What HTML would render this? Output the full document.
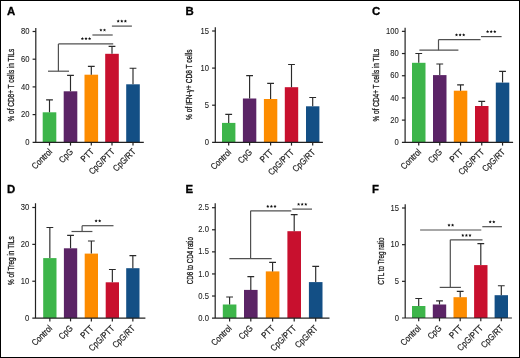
<!DOCTYPE html>
<html><head><meta charset="utf-8"><style>
html,body{margin:0;padding:0;background:#fff;}
body{width:520px;height:358px;overflow:hidden;}
svg{display:block;will-change:transform;}
text{font-family:"Liberation Sans",sans-serif;fill:#1a1a1a;stroke:#1a1a1a;stroke-width:0.22px;}
.let{stroke:#000;stroke-width:0.3px;}
.let{font-size:11.4px;font-weight:bold;fill:#000;}
.tk{font-size:8.3px;text-anchor:end;stroke-width:0.08px;}
.xl{font-size:9.0px;text-anchor:end;stroke-width:0.2px;}
.yl{font-size:8.9px;text-anchor:middle;stroke-width:0.3px;}
.st{font-size:7.5px;text-anchor:middle;letter-spacing:0.6px;}
.ax{stroke:#222;stroke-width:1.2;fill:none;}
.eb{stroke:#2a2a2a;stroke-width:1.15;fill:none;}
.sd{fill:#111;}
.br{stroke:#505050;stroke-width:1.2;fill:none;}
</style></head><body>
<svg width="520" height="358" viewBox="0 0 520 358">
<rect x="0" y="0" width="520" height="358" fill="#fff"/>
<text x="7" y="14.6" class="let">A</text>
<rect x="42.7" y="112.3" width="13.6" height="30" fill="#3db54a"/>
<path d="M49.5 112.3V99.9M46.1 99.9H52.9" class="eb"/>
<path d="M49.5 142.3V145.6" class="ax"/>
<text transform="translate(52.7 152.3) rotate(-45) scale(0.85 1)" class="xl">Control</text>
<rect x="63.7" y="91.3" width="13.6" height="51" fill="#5b2466"/>
<path d="M70.5 91.3V75.4M67.1 75.4H73.9" class="eb"/>
<path d="M70.5 142.3V145.6" class="ax"/>
<text transform="translate(73.7 152.3) rotate(-45) scale(0.85 1)" class="xl">CpG</text>
<rect x="84.5" y="74.7" width="13.6" height="67.6" fill="#fd8c00"/>
<path d="M91.3 74.7V66.4M87.9 66.4H94.7" class="eb"/>
<path d="M91.3 142.3V145.6" class="ax"/>
<text transform="translate(94.5 152.3) rotate(-45) scale(0.85 1)" class="xl">PTT</text>
<rect x="105.2" y="53.8" width="13.6" height="88.5" fill="#c8102e"/>
<path d="M112 53.8V46.4M108.6 46.4H115.4" class="eb"/>
<path d="M112 142.3V145.6" class="ax"/>
<text transform="translate(115.2 152.3) rotate(-45) scale(0.85 1)" class="xl">CpG/PTT</text>
<rect x="126.2" y="84.3" width="13.6" height="58" fill="#134f85"/>
<path d="M133 84.3V68.2M129.6 68.2H136.4" class="eb"/>
<path d="M133 142.3V145.6" class="ax"/>
<text transform="translate(136.2 152.3) rotate(-45) scale(0.85 1)" class="xl">CpG/RT</text>
<path d="M35.8 27.9V142.3M32.6 142.3H143.8" class="ax"/>
<text transform="translate(29.5 144.9) scale(0.92 1)" class="tk">0</text>
<path d="M32.6 114.6H35.8" class="ax"/>
<text transform="translate(29.5 117.2) scale(0.92 1)" class="tk">20</text>
<path d="M32.6 86.9H35.8" class="ax"/>
<text transform="translate(29.5 89.5) scale(0.92 1)" class="tk">40</text>
<path d="M32.6 59.2H35.8" class="ax"/>
<text transform="translate(29.5 61.8) scale(0.92 1)" class="tk">60</text>
<path d="M32.6 31.5H35.8" class="ax"/>
<text transform="translate(29.5 34.1) scale(0.92 1)" class="tk">80</text>
<text transform="translate(13.9 85.15) rotate(-90) scale(0.726 1)" class="yl">% of CD8+ T cells in TILs</text>
<path d="M48 71.2L69 71.2" class="br"/>
<path d="M58.4 71.2L58.4 43.9" class="br"/>
<path d="M58.4 43.9L113.2 43.9" class="br"/>
<path d="M92.4 35L112.7 35" class="br"/>
<path d="M111.9 26.1L131.9 26.1" class="br"/>
<polygon points="82.40,37.10 82.87,38.10 83.97,38.24 83.16,39.00 83.37,40.08 82.40,39.55 81.43,40.08 81.64,39.00 80.83,38.24 81.93,38.10" class="sd"/>
<polygon points="86.00,37.10 86.47,38.10 87.57,38.24 86.76,39.00 86.97,40.08 86.00,39.55 85.03,40.08 85.24,39.00 84.43,38.24 85.53,38.10" class="sd"/>
<polygon points="89.60,37.10 90.07,38.10 91.17,38.24 90.36,39.00 90.57,40.08 89.60,39.55 88.63,40.08 88.84,39.00 88.03,38.24 89.13,38.10" class="sd"/>
<polygon points="100.90,28.40 101.37,29.40 102.47,29.54 101.66,30.30 101.87,31.38 100.90,30.85 99.93,31.38 100.14,30.30 99.33,29.54 100.43,29.40" class="sd"/>
<polygon points="104.50,28.40 104.97,29.40 106.07,29.54 105.26,30.30 105.47,31.38 104.50,30.85 103.53,31.38 103.74,30.30 102.93,29.54 104.03,29.40" class="sd"/>
<polygon points="118.20,19.50 118.67,20.50 119.77,20.64 118.96,21.40 119.17,22.48 118.20,21.95 117.23,22.48 117.44,21.40 116.63,20.64 117.73,20.50" class="sd"/>
<polygon points="121.80,19.50 122.27,20.50 123.37,20.64 122.56,21.40 122.77,22.48 121.80,21.95 120.83,22.48 121.04,21.40 120.23,20.64 121.33,20.50" class="sd"/>
<polygon points="125.40,19.50 125.87,20.50 126.97,20.64 126.16,21.40 126.37,22.48 125.40,21.95 124.43,22.48 124.64,21.40 123.83,20.64 124.93,20.50" class="sd"/>
<text x="185.5" y="14.6" class="let">B</text>
<rect x="222" y="122.9" width="13.4" height="19.4" fill="#3db54a"/>
<path d="M228.7 122.9V114.3M225.3 114.3H232.1" class="eb"/>
<path d="M228.7 142.3V145.6" class="ax"/>
<text transform="translate(231.7 152.9) rotate(-45) scale(0.85 1)" class="xl">Control</text>
<rect x="242.9" y="98.5" width="13.4" height="43.8" fill="#5b2466"/>
<path d="M249.6 98.5V75.6M246.2 75.6H253" class="eb"/>
<path d="M249.6 142.3V145.6" class="ax"/>
<text transform="translate(252.6 152.9) rotate(-45) scale(0.85 1)" class="xl">CpG</text>
<rect x="263.9" y="99" width="13.4" height="43.3" fill="#fd8c00"/>
<path d="M270.6 99V83.4M267.2 83.4H274" class="eb"/>
<path d="M270.6 142.3V145.6" class="ax"/>
<text transform="translate(273.6 152.9) rotate(-45) scale(0.85 1)" class="xl">PTT</text>
<rect x="284.8" y="87.2" width="13.4" height="55.1" fill="#c8102e"/>
<path d="M291.5 87.2V64.5M288.1 64.5H294.9" class="eb"/>
<path d="M291.5 142.3V145.6" class="ax"/>
<text transform="translate(294.5 152.9) rotate(-45) scale(0.85 1)" class="xl">CpG/PTT</text>
<rect x="306" y="106.3" width="13.4" height="36" fill="#134f85"/>
<path d="M312.7 106.3V97.5M309.3 97.5H316.1" class="eb"/>
<path d="M312.7 142.3V145.6" class="ax"/>
<text transform="translate(315.7 152.9) rotate(-45) scale(0.85 1)" class="xl">CpG/RT</text>
<path d="M215.3 27.3V142.3M212.1 142.3H322.9" class="ax"/>
<text transform="translate(209 144.9) scale(0.92 1)" class="tk">0</text>
<path d="M212.1 105.2H215.3" class="ax"/>
<text transform="translate(209 107.8) scale(0.92 1)" class="tk">5</text>
<path d="M212.1 68.1H215.3" class="ax"/>
<text transform="translate(209 70.7) scale(0.92 1)" class="tk">10</text>
<path d="M212.1 31H215.3" class="ax"/>
<text transform="translate(209 33.6) scale(0.92 1)" class="tk">15</text>
<text transform="translate(191.55 84.75) rotate(-90) scale(0.739 1)" class="yl">% of IFN-γ+ CD8 T cells</text>
<text x="372" y="14.6" class="let">C</text>
<rect x="412" y="62.8" width="13.5" height="79.5" fill="#3db54a"/>
<path d="M418.75 62.8V53.5M415.35 53.5H422.15" class="eb"/>
<path d="M418.75 142.3V145.6" class="ax"/>
<text transform="translate(421.75 152.6) rotate(-45) scale(0.85 1)" class="xl">Control</text>
<rect x="433" y="75.1" width="13.5" height="67.2" fill="#5b2466"/>
<path d="M439.75 75.1V64M436.35 64H443.15" class="eb"/>
<path d="M439.75 142.3V145.6" class="ax"/>
<text transform="translate(442.75 152.6) rotate(-45) scale(0.85 1)" class="xl">CpG</text>
<rect x="453.8" y="90.7" width="13.5" height="51.6" fill="#fd8c00"/>
<path d="M460.55 90.7V84.9M457.15 84.9H463.95" class="eb"/>
<path d="M460.55 142.3V145.6" class="ax"/>
<text transform="translate(463.55 152.6) rotate(-45) scale(0.85 1)" class="xl">PTT</text>
<rect x="475" y="106" width="13.5" height="36.3" fill="#c8102e"/>
<path d="M481.75 106V101.3M478.35 101.3H485.15" class="eb"/>
<path d="M481.75 142.3V145.6" class="ax"/>
<text transform="translate(484.75 152.6) rotate(-45) scale(0.85 1)" class="xl">CpG/PTT</text>
<rect x="495.8" y="82.6" width="13.5" height="59.7" fill="#134f85"/>
<path d="M502.55 82.6V71.3M499.15 71.3H505.95" class="eb"/>
<path d="M502.55 142.3V145.6" class="ax"/>
<text transform="translate(505.55 152.6) rotate(-45) scale(0.85 1)" class="xl">CpG/RT</text>
<path d="M405.1 27.7V142.3M401.9 142.3H513.1" class="ax"/>
<text transform="translate(398.8 144.9) scale(0.92 1)" class="tk">0</text>
<path d="M401.9 120.11H405.1" class="ax"/>
<text transform="translate(398.8 122.71) scale(0.92 1)" class="tk">20</text>
<path d="M401.9 97.92H405.1" class="ax"/>
<text transform="translate(398.8 100.52) scale(0.92 1)" class="tk">40</text>
<path d="M401.9 75.73H405.1" class="ax"/>
<text transform="translate(398.8 78.33) scale(0.92 1)" class="tk">60</text>
<path d="M401.9 53.54H405.1" class="ax"/>
<text transform="translate(398.8 56.14) scale(0.92 1)" class="tk">80</text>
<path d="M401.9 31.35H405.1" class="ax"/>
<text transform="translate(398.8 33.95) scale(0.92 1)" class="tk">100</text>
<text transform="translate(378.65 85.15) rotate(-90) scale(0.726 1)" class="yl">% of CD4+ T cells in TILs</text>
<path d="M419.4 50.2L458.4 50.2" class="br"/>
<path d="M438.5 50.2L438.5 39.6" class="br"/>
<path d="M438.5 39.6L480.5 39.6" class="br"/>
<path d="M481 36.6L501.6 36.6" class="br"/>
<polygon points="456.50,33.20 456.97,34.20 458.07,34.34 457.26,35.10 457.47,36.18 456.50,35.65 455.53,36.18 455.74,35.10 454.93,34.34 456.03,34.20" class="sd"/>
<polygon points="460.10,33.20 460.57,34.20 461.67,34.34 460.86,35.10 461.07,36.18 460.10,35.65 459.13,36.18 459.34,35.10 458.53,34.34 459.63,34.20" class="sd"/>
<polygon points="463.70,33.20 464.17,34.20 465.27,34.34 464.46,35.10 464.67,36.18 463.70,35.65 462.73,36.18 462.94,35.10 462.13,34.34 463.23,34.20" class="sd"/>
<polygon points="487.60,30.10 488.07,31.10 489.17,31.24 488.36,32.00 488.57,33.08 487.60,32.55 486.63,33.08 486.84,32.00 486.03,31.24 487.13,31.10" class="sd"/>
<polygon points="491.20,30.10 491.67,31.10 492.77,31.24 491.96,32.00 492.17,33.08 491.20,32.55 490.23,33.08 490.44,32.00 489.63,31.24 490.73,31.10" class="sd"/>
<polygon points="494.80,30.10 495.27,31.10 496.37,31.24 495.56,32.00 495.77,33.08 494.80,32.55 493.83,33.08 494.04,32.00 493.23,31.24 494.33,31.10" class="sd"/>
<text x="7" y="193.1" class="let">D</text>
<rect x="43.2" y="258.1" width="13.3" height="60" fill="#3db54a"/>
<path d="M49.85 258.1V227.5M46.45 227.5H53.25" class="eb"/>
<path d="M49.85 318.1V321.4" class="ax"/>
<text transform="translate(52.65 328.9) rotate(-45) scale(0.85 1)" class="xl">Control</text>
<rect x="63.9" y="248.3" width="13.3" height="69.8" fill="#5b2466"/>
<path d="M70.55 248.3V235.3M67.15 235.3H73.95" class="eb"/>
<path d="M70.55 318.1V321.4" class="ax"/>
<text transform="translate(73.35 328.9) rotate(-45) scale(0.85 1)" class="xl">CpG</text>
<rect x="84.7" y="253.6" width="13.3" height="64.5" fill="#fd8c00"/>
<path d="M91.35 253.6V241M87.95 241H94.75" class="eb"/>
<path d="M91.35 318.1V321.4" class="ax"/>
<text transform="translate(94.15 328.9) rotate(-45) scale(0.85 1)" class="xl">PTT</text>
<rect x="105.7" y="282.3" width="13.3" height="35.8" fill="#c8102e"/>
<path d="M112.35 282.3V269.5M108.95 269.5H115.75" class="eb"/>
<path d="M112.35 318.1V321.4" class="ax"/>
<text transform="translate(115.15 328.9) rotate(-45) scale(0.85 1)" class="xl">CpG/PTT</text>
<rect x="126.2" y="268.2" width="13.3" height="49.9" fill="#134f85"/>
<path d="M132.85 268.2V255.6M129.45 255.6H136.25" class="eb"/>
<path d="M132.85 318.1V321.4" class="ax"/>
<text transform="translate(135.65 328.9) rotate(-45) scale(0.85 1)" class="xl">CpG/RT</text>
<path d="M35.5 203.2V318.1M32.3 318.1H145.4" class="ax"/>
<text transform="translate(29.2 320.7) scale(0.92 1)" class="tk">0</text>
<path d="M32.3 281.23H35.5" class="ax"/>
<text transform="translate(29.2 283.83) scale(0.92 1)" class="tk">10</text>
<path d="M32.3 244.37H35.5" class="ax"/>
<text transform="translate(29.2 246.97) scale(0.92 1)" class="tk">20</text>
<path d="M32.3 207.5H35.5" class="ax"/>
<text transform="translate(29.2 210.1) scale(0.92 1)" class="tk">30</text>
<text transform="translate(13.7 260.65) rotate(-90) scale(0.726 1)" class="yl">% of Treg in TILs</text>
<path d="M71.5 231.5L92.4 231.5" class="br"/>
<path d="M82.1 231.5L82.1 225.7" class="br"/>
<path d="M82.1 225.7L113.5 225.7" class="br"/>
<polygon points="96.10,219.25 96.57,220.25 97.67,220.39 96.86,221.15 97.07,222.23 96.10,221.70 95.13,222.23 95.34,221.15 94.53,220.39 95.63,220.25" class="sd"/>
<polygon points="99.70,219.25 100.17,220.25 101.27,220.39 100.46,221.15 100.67,222.23 99.70,221.70 98.73,222.23 98.94,221.15 98.13,220.39 99.23,220.25" class="sd"/>
<text x="185.6" y="193.1" class="let">E</text>
<rect x="222.8" y="304.5" width="13.6" height="13.6" fill="#3db54a"/>
<path d="M229.6 304.5V297M226.2 297H233" class="eb"/>
<path d="M229.6 318.1V321.4" class="ax"/>
<text transform="translate(232.2 328.9) rotate(-45) scale(0.85 1)" class="xl">Control</text>
<rect x="244" y="289.9" width="13.6" height="28.2" fill="#5b2466"/>
<path d="M250.8 289.9V276.6M247.4 276.6H254.2" class="eb"/>
<path d="M250.8 318.1V321.4" class="ax"/>
<text transform="translate(253.4 328.9) rotate(-45) scale(0.85 1)" class="xl">CpG</text>
<rect x="265.8" y="271.4" width="13.6" height="46.7" fill="#fd8c00"/>
<path d="M272.6 271.4V262.4M269.2 262.4H276" class="eb"/>
<path d="M272.6 318.1V321.4" class="ax"/>
<text transform="translate(275.2 328.9) rotate(-45) scale(0.85 1)" class="xl">PTT</text>
<rect x="287.4" y="231.2" width="13.6" height="86.9" fill="#c8102e"/>
<path d="M294.2 231.2V214.6M290.8 214.6H297.6" class="eb"/>
<path d="M294.2 318.1V321.4" class="ax"/>
<text transform="translate(296.8 328.9) rotate(-45) scale(0.85 1)" class="xl">CpG/PTT</text>
<rect x="308.9" y="282.1" width="13.6" height="36" fill="#134f85"/>
<path d="M315.7 282.1V266.4M312.3 266.4H319.1" class="eb"/>
<path d="M315.7 318.1V321.4" class="ax"/>
<text transform="translate(318.3 328.9) rotate(-45) scale(0.85 1)" class="xl">CpG/RT</text>
<path d="M215.2 203.2V318.1M212 318.1H329.5" class="ax"/>
<text transform="translate(208.9 320.7) scale(0.92 1)" class="tk">0.0</text>
<path d="M212 296.02H215.2" class="ax"/>
<text transform="translate(208.9 298.62) scale(0.92 1)" class="tk">0.5</text>
<path d="M212 273.94H215.2" class="ax"/>
<text transform="translate(208.9 276.54) scale(0.92 1)" class="tk">1.0</text>
<path d="M212 251.86H215.2" class="ax"/>
<text transform="translate(208.9 254.46) scale(0.92 1)" class="tk">1.5</text>
<path d="M212 229.78H215.2" class="ax"/>
<text transform="translate(208.9 232.38) scale(0.92 1)" class="tk">2.0</text>
<path d="M212 207.7H215.2" class="ax"/>
<text transform="translate(208.9 210.3) scale(0.92 1)" class="tk">2.5</text>
<text transform="translate(192.55 260.65) rotate(-90) scale(0.696 1)" class="yl">CD8 to CD4 ratio</text>
<path d="M229.4 258.6L271.7 258.6" class="br"/>
<path d="M250.6 258.6L250.6 210.8" class="br"/>
<path d="M250.6 210.8L291.3 210.8" class="br"/>
<path d="M292.3 209.1L312 209.1" class="br"/>
<polygon points="267.80,204.80 268.27,205.80 269.37,205.94 268.56,206.70 268.77,207.78 267.80,207.25 266.83,207.78 267.04,206.70 266.23,205.94 267.33,205.80" class="sd"/>
<polygon points="271.40,204.80 271.87,205.80 272.97,205.94 272.16,206.70 272.37,207.78 271.40,207.25 270.43,207.78 270.64,206.70 269.83,205.94 270.93,205.80" class="sd"/>
<polygon points="275.00,204.80 275.47,205.80 276.57,205.94 275.76,206.70 275.97,207.78 275.00,207.25 274.03,207.78 274.24,206.70 273.43,205.94 274.53,205.80" class="sd"/>
<polygon points="298.60,202.65 299.07,203.65 300.17,203.79 299.36,204.55 299.57,205.63 298.60,205.10 297.63,205.63 297.84,204.55 297.03,203.79 298.13,203.65" class="sd"/>
<polygon points="302.20,202.65 302.67,203.65 303.77,203.79 302.96,204.55 303.17,205.63 302.20,205.10 301.23,205.63 301.44,204.55 300.63,203.79 301.73,203.65" class="sd"/>
<polygon points="305.80,202.65 306.27,203.65 307.37,203.79 306.56,204.55 306.77,205.63 305.80,205.10 304.83,205.63 305.04,204.55 304.23,203.79 305.33,203.65" class="sd"/>
<text x="372" y="193.1" class="let">F</text>
<rect x="412" y="306" width="13.4" height="12" fill="#3db54a"/>
<path d="M418.7 306V298.5M415.3 298.5H422.1" class="eb"/>
<path d="M418.7 318V321.3" class="ax"/>
<text transform="translate(421.5 328.7) rotate(-45) scale(0.85 1)" class="xl">Control</text>
<rect x="432.8" y="304.5" width="13.4" height="13.5" fill="#5b2466"/>
<path d="M439.5 304.5V300.8M436.1 300.8H442.9" class="eb"/>
<path d="M439.5 318V321.3" class="ax"/>
<text transform="translate(442.3 328.7) rotate(-45) scale(0.85 1)" class="xl">CpG</text>
<rect x="453.5" y="297.2" width="13.4" height="20.8" fill="#fd8c00"/>
<path d="M460.2 297.2V291.4M456.8 291.4H463.6" class="eb"/>
<path d="M460.2 318V321.3" class="ax"/>
<text transform="translate(463 328.7) rotate(-45) scale(0.85 1)" class="xl">PTT</text>
<rect x="474.1" y="265.1" width="13.4" height="52.9" fill="#c8102e"/>
<path d="M480.8 265.1V243.6M477.4 243.6H484.2" class="eb"/>
<path d="M480.8 318V321.3" class="ax"/>
<text transform="translate(483.6 328.7) rotate(-45) scale(0.85 1)" class="xl">CpG/PTT</text>
<rect x="494.6" y="295.2" width="13.4" height="22.8" fill="#134f85"/>
<path d="M501.3 295.2V285.7M497.9 285.7H504.7" class="eb"/>
<path d="M501.3 318V321.3" class="ax"/>
<text transform="translate(504.1 328.7) rotate(-45) scale(0.85 1)" class="xl">CpG/RT</text>
<path d="M405.2 204.2V318M402 318H511.9" class="ax"/>
<text transform="translate(398.9 320.6) scale(0.92 1)" class="tk">0</text>
<path d="M402 281.33H405.2" class="ax"/>
<text transform="translate(398.9 283.93) scale(0.92 1)" class="tk">5</text>
<path d="M402 244.67H405.2" class="ax"/>
<text transform="translate(398.9 247.27) scale(0.92 1)" class="tk">10</text>
<path d="M402 208H405.2" class="ax"/>
<text transform="translate(398.9 210.6) scale(0.92 1)" class="tk">15</text>
<text transform="translate(383.9 261.1) rotate(-90) scale(0.713 1)" class="yl">CTL to Treg ratio</text>
<path d="M420.1 230L481.3 230" class="br"/>
<path d="M482.3 226.7L501.9 226.7" class="br"/>
<path d="M450.3 239.8L482.5 239.8" class="br"/>
<path d="M450.3 239.8L450.3 287.4" class="br"/>
<path d="M439.7 287.4L460.9 287.4" class="br"/>
<polygon points="449.00,223.50 449.47,224.50 450.57,224.64 449.76,225.40 449.97,226.48 449.00,225.95 448.03,226.48 448.24,225.40 447.43,224.64 448.53,224.50" class="sd"/>
<polygon points="452.60,223.50 453.07,224.50 454.17,224.64 453.36,225.40 453.57,226.48 452.60,225.95 451.63,226.48 451.84,225.40 451.03,224.64 452.13,224.50" class="sd"/>
<polygon points="490.20,220.25 490.67,221.25 491.77,221.39 490.96,222.15 491.17,223.23 490.20,222.70 489.23,223.23 489.44,222.15 488.63,221.39 489.73,221.25" class="sd"/>
<polygon points="493.80,220.25 494.27,221.25 495.37,221.39 494.56,222.15 494.77,223.23 493.80,222.70 492.83,223.23 493.04,222.15 492.23,221.39 493.33,221.25" class="sd"/>
<polygon points="462.80,233.70 463.27,234.70 464.37,234.84 463.56,235.60 463.77,236.68 462.80,236.15 461.83,236.68 462.04,235.60 461.23,234.84 462.33,234.70" class="sd"/>
<polygon points="466.40,233.70 466.87,234.70 467.97,234.84 467.16,235.60 467.37,236.68 466.40,236.15 465.43,236.68 465.64,235.60 464.83,234.84 465.93,234.70" class="sd"/>
<polygon points="470.00,233.70 470.47,234.70 471.57,234.84 470.76,235.60 470.97,236.68 470.00,236.15 469.03,236.68 469.24,235.60 468.43,234.84 469.53,234.70" class="sd"/>
<rect x="0.5" y="0.5" width="519" height="357" fill="none" stroke="#000" stroke-width="1"/>
</svg>
</body></html>
